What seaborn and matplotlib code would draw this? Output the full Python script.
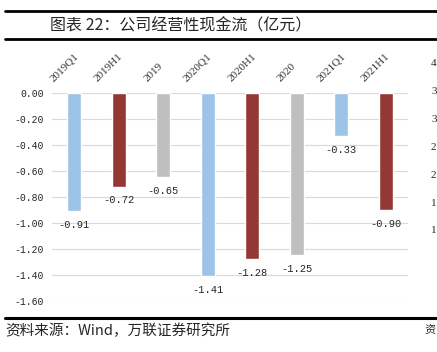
import matplotlib
matplotlib.use("Agg")
import matplotlib.pyplot as plt
import matplotlib.transforms as mtransforms
from matplotlib.lines import Line2D
import seaborn as sns
import pandas as pd

# data
periods = ["2019Q1", "2019H1", "2019", "2020Q1", "2020H1", "2020", "2021Q1", "2021H1"]
cash_flow = [-0.91, -0.72, -0.65, -1.41, -1.28, -1.25, -0.33, -0.90]
bar_colors = ["#9DC3E6", "#953735", "#BFBFBF", "#9DC3E6", "#953735", "#BFBFBF", "#9DC3E6", "#953735"]
y_ticks = [0.0, -0.2, -0.4, -0.6, -0.8, -1.0, -1.2, -1.4, -1.6]
edge_digits = ["4", "3", "3", "2", "2", "1", "1"]

df = pd.DataFrame({"period": periods, "value": cash_flow})

sns.set_style("white")
plt.rcParams["font.family"] = ["Noto Sans CJK SC", "DejaVu Sans"]

fig = plt.figure(figsize=(4.37, 3.52), dpi=100)
ax = fig.add_axes([0.119, 0.145, 0.815, 0.591])

sns.barplot(data=df, x="period", y="value", hue="period", palette=bar_colors,
            width=0.31, legend=False, ax=ax, saturation=1)

ax.set_ylim(-1.6, 0)
ax.set_xlim(-0.5, len(periods) - 0.5)
ax.set_yticks(y_ticks)
ax.set_yticklabels([f"{v:.2f}" for v in y_ticks], fontfamily="Liberation Mono", fontsize=7)
ax.grid(axis="y", color="#D9D9D9", linewidth=0.8)
ax.set_axisbelow(True)
for s in ax.spines.values():
    s.set_visible(False)
ax.tick_params(axis="y", length=0, pad=6)
ax.set_xlabel("")
ax.set_ylabel("")

# category labels above the plot, rotated
ax.xaxis.tick_top()
ax.tick_params(axis="x", length=0, pad=7)
ax.set_xticks(range(len(periods)))
ax.set_xticklabels(periods, rotation=45, ha="center", va="bottom",
                   fontfamily="Liberation Serif", fontsize=8, color="#333333")
offset = mtransforms.ScaledTranslation(-10 / 100, 0, fig.dpi_scale_trans)
for lbl in ax.get_xticklabels():
    lbl.set_transform(lbl.get_transform() + offset)

# value labels below bars
for i, v in enumerate(cash_flow):
    ax.annotate(f"{v:.2f}", (i, v), xytext=(0, -10), textcoords="offset points",
                ha="center", va="center", fontfamily="Liberation Mono", fontsize=7.5)

# frame lines and text
fig.add_artist(Line2D([5 / 437, 1], [1 - 11 / 352] * 2, color="black", linewidth=2))
fig.add_artist(Line2D([5 / 437, 1], [1 - 39 / 352] * 2, color="black", linewidth=2))
fig.add_artist(Line2D([5 / 437, 1], [1 - 318 / 352] * 2, color="black", linewidth=2.2))
fig.text(50 / 437, 1 - 26 / 352, "图表 22：公司经营性现金流（亿元）", fontsize=11.5,
         va="center", ha="left")
fig.text(5 / 437, 1 - 331 / 352, "资料来源：Wind，万联证券研究所", fontsize=10.5,
         style="italic", va="center", ha="left")
fig.text(436 / 437, 1 - 331 / 352, "资", fontsize=8, va="center", ha="right")
for k, d in enumerate(edge_digits):
    fig.text(431 / 437, 1 - (64 + k * 27.8) / 352, d, fontsize=8,
             fontfamily="Liberation Serif", va="center", ha="left")

fig.savefig("out.png", dpi=100)
